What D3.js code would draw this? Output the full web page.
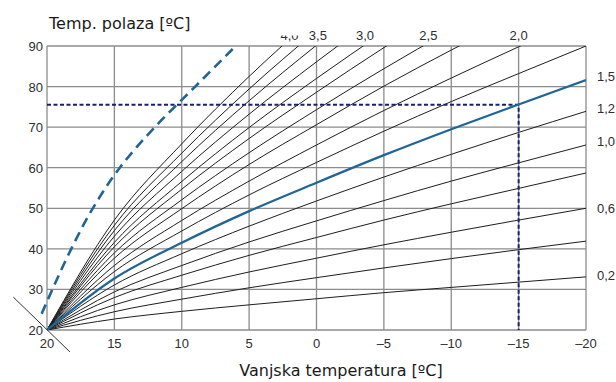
<!DOCTYPE html>
<html>
<head>
<meta charset="utf-8">
<script src="https://cdn.jsdelivr.net/npm/d3@7"></script>
<style>
  body { margin: 0; background: #fff; }
  svg { display: block; }
</style>
</head>
<body>
<script>
'use strict';

// outdoor temperatures where the curves were read
var outdoor = [20, 15, 10, 5, 0, -5, -10, -15, -20];

// flow temperature of each heating curve, read at the outdoor temperatures above
// (the last value may go past 90, the plot clips it)
var curves = [
    [20, 22.7, 24.6, 26.2, 27.7, 29.2, 30.5, 31.8, 33.1],
    [20, 24.5, 27.6, 30.4, 32.9, 35.3, 37.6, 39.8, 41.9],
    [20, 26.2, 30.5, 34.3, 37.7, 41.0, 44.1, 47.1, 50.0],
    [20, 28.0, 33.5, 38.4, 42.8, 47.1, 51.1, 54.9, 58.7],
    [20, 29.4, 35.9, 41.7, 46.9, 51.9, 56.7, 61.2, 65.6],
    [20, 31.1, 38.8, 45.6, 51.8, 57.7, 63.3, 68.7, 73.9],
    [20, 34.4, 44.4, 53.3, 61.3, 69.0, 76.3, 83.2, 90.0],
    [20, 35.9, 47.0, 56.7, 65.6, 74.1, 82.1, 89.8, 97.3],
    [20, 37.7, 49.9, 60.8, 70.6, 80.1, 89.0, 97.5],
    [20, 39.0, 52.1, 63.7, 74.3, 84.4, 94.0],
    [20, 40.5, 54.7, 67.2, 78.6, 89.6, 99.9],
    [20, 41.6, 56.6, 69.9, 82.0, 93.5],
    [20, 43.1, 59.1, 73.2, 86.1, 98.4],
    [20, 44.5, 61.5, 76.5, 90.2],
    [20, 45.8, 63.6, 79.4, 93.8],
    [20, 47.1, 65.9, 82.5, 97.6]
];

// the highlighted (blue) curve
var blueCurve = [20, 32.7, 41.5, 49.3, 56.3, 63.1, 69.5, 75.6, 81.6];

// dashed blue curve: [outdoor, flow]
var dashedCurve = [[20.4, 24], [19.6, 30], [18.2, 40], [16.6, 50], [14.6, 60], [12.0, 70], [9.0, 80], [6.0, 90]];

// design point (dotted guide lines)
var designOut = -15;
var designFlow = 75.5;

// small diagonal mark through the origin
var originMark = [[22.5, 28.1], [18.3, 14.6]];

// curve labels
var topLabels = ['4,0', '3,5', '3,0', '2,5', '2,0'];
var topLabelAt = [2.0, -0.1, -3.6, -8.3, -15.0];
var rightLabels = ['1,5', '1,2', '1,0', '0,6', '0,2'];
var rightLabelAt = [82.7, 74.8, 66.5, 50.0, 33.5];

var xTicks = [20, 15, 10, 5, 0, -5, -10, -15, -20];
var yTicks = [20, 30, 40, 50, 60, 70, 80, 90];

var width = 616;
var height = 382;

var svg = d3.select('body').append('svg')
    .attr('width', width)
    .attr('height', height);

var x = d3.scaleLinear().domain([20, -20]).range([47, 586]);
var y = d3.scaleLinear().domain([20, 90]).range([330, 46]);

var tickFont = '"Liberation Sans Narrow", "Arial Narrow", "Liberation Sans", sans-serif';

svg.append('defs').append('clipPath')
    .attr('id', 'plot')
    .append('rect')
    .attr('x', x(20))
    .attr('y', y(90))
    .attr('width', x(-20) - x(20))
    .attr('height', y(20) - y(90));

// grid
var grid = svg.append('g');
grid.selectAll('line.v')
    .data(xTicks)
    .enter()
    .append('line')
    .attr('class', 'v')
    .attr('x1', d => x(d)).attr('x2', d => x(d))
    .attr('y1', y(20)).attr('y2', y(90))
    .attr('stroke', '#8c8c8c')
    .attr('stroke-width', 1.3);
grid.selectAll('line.h')
    .data(yTicks)
    .enter()
    .append('line')
    .attr('class', 'h')
    .attr('y1', d => y(d)).attr('y2', d => y(d))
    .attr('x1', x(20)).attr('x2', x(-20))
    .attr('stroke', '#8c8c8c')
    .attr('stroke-width', 1.3);

// tick labels
svg.selectAll('text.xt')
    .data(xTicks)
    .enter()
    .append('text')
    .attr('class', 'xt')
    .attr('x', d => x(d))
    .attr('y', 348)
    .attr('text-anchor', 'middle')
    .style('font-family', tickFont)
    .style('font-size', '13px')
    .attr('fill', '#2e2e2e')
    .text(d => d < 0 ? '\u2013' + Math.abs(d) : d);

svg.selectAll('text.yt')
    .data(yTicks)
    .enter()
    .append('text')
    .attr('class', 'yt')
    .attr('x', 43)
    .attr('y', d => y(d) + 5)
    .attr('text-anchor', 'end')
    .style('font-family', tickFont)
    .style('font-size', '13px')
    .attr('fill', '#2e2e2e')
    .text(d => d);

var plot = svg.append('g').attr('clip-path', 'url(#plot)');

var line = d3.line()
    .x(d => x(d[0]))
    .y(d => y(d[1]))
    .curve(d3.curveMonotoneX);

function toPoints(vals) {
    return vals.map((v, i) => [outdoor[i], v]);
}

plot.selectAll('path.curve')
    .data(curves)
    .enter()
    .append('path')
    .attr('class', 'curve')
    .attr('fill', 'none')
    .attr('stroke', '#1e1e1e')
    .attr('stroke-width', 1)
    .attr('d', d => line(toPoints(d)));

// dotted design lines
plot.append('path')
    .attr('fill', 'none')
    .attr('stroke', '#1c1f6b')
    .attr('stroke-width', 2)
    .attr('stroke-dasharray', '4,2.5')
    .attr('d', d3.line()([[x(20), y(designFlow)], [x(designOut), y(designFlow)], [x(designOut), y(20)]]));

plot.append('path')
    .attr('fill', 'none')
    .attr('stroke', '#1f6597')
    .attr('stroke-width', 2.2)
    .attr('d', line(toPoints(blueCurve)));

svg.append('path')
    .attr('fill', 'none')
    .attr('stroke', '#1f6597')
    .attr('stroke-width', 2.6)
    .attr('stroke-dasharray', '10,6')
    .attr('d', d3.line().x(d => x(d[0])).y(d => y(d[1])).curve(d3.curveMonotoneY)(dashedCurve));

svg.append('path')
    .attr('fill', 'none')
    .attr('stroke', '#333')
    .attr('stroke-width', 1)
    .attr('d', d3.line().x(d => x(d[0])).y(d => y(d[1]))(originMark));

// curve labels ("4,0" is cut at the top in the original)
svg.append('clipPath')
    .attr('id', 'toplab')
    .append('rect')
    .attr('x', 0).attr('y', 35.5).attr('width', width).attr('height', 10);

svg.selectAll('text.tl')
    .data(topLabels)
    .enter()
    .append('text')
    .attr('class', 'tl')
    .attr('x', (d, i) => x(topLabelAt[i]))
    .attr('y', 40)
    .attr('text-anchor', 'middle')
    .attr('clip-path', (d, i) => i === 0 ? 'url(#toplab)' : null)
    .style('font-family', tickFont)
    .style('font-size', '13px')
    .attr('fill', '#2e2e2e')
    .text(d => d);

svg.selectAll('text.rl')
    .data(rightLabels)
    .enter()
    .append('text')
    .attr('class', 'rl')
    .attr('x', 597)
    .attr('y', (d, i) => y(rightLabelAt[i]) + 5)
    .style('font-family', tickFont)
    .style('font-size', '13px')
    .attr('fill', '#2e2e2e')
    .text(d => d);

// axis titles
svg.append('text')
    .attr('x', 49)
    .attr('y', 29)
    .style('font-family', '"DejaVu Sans", Verdana, sans-serif')
    .style('font-size', '16px')
    .attr('fill', '#1a1a1a')
    .text('Temp. polaza [\u00baC]');

svg.append('text')
    .attr('x', 341)
    .attr('y', 376)
    .attr('text-anchor', 'middle')
    .style('font-family', '"DejaVu Sans", Verdana, sans-serif')
    .style('font-size', '16px')
    .attr('fill', '#1a1a1a')
    .text('Vanjska temperatura [\u00baC]');
</script>
</body>
</html>
